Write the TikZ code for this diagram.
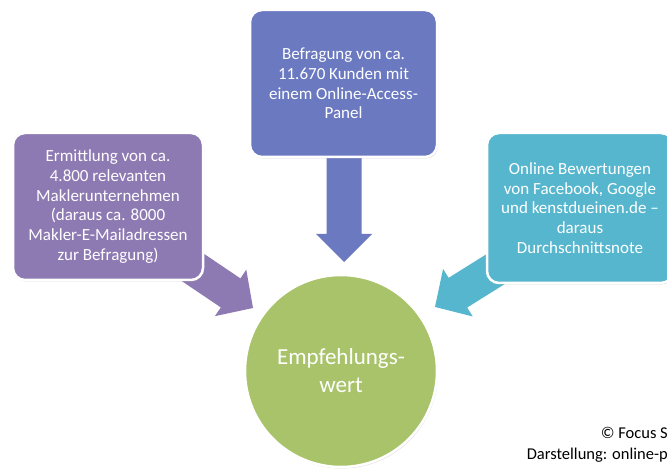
\documentclass[tikz,border=0pt]{standalone}
\usepackage{fontspec}
\setmainfont{Carlito}
\usetikzlibrary{shadows}
\definecolor{cTop}{HTML}{6B79C1}
\definecolor{cLeft}{HTML}{8E7AB3}
\definecolor{cRight}{HTML}{56B6CE}
\definecolor{cGreen}{HTML}{A9C36A}
\begin{document}
\begin{tikzpicture}[x=1pt,y=-1pt,
  box/.style={rounded corners=12pt, draw=white, line width=2.5pt, text=white,
    align=center, font=\fontsize{17}{19.8}\selectfont, inner sep=4pt,
    drop shadow={opacity=0.3, shadow xshift=1pt, shadow yshift=-1.5pt}},
  hub/.style={circle, draw=white, line width=2.5pt, text=white, align=center,
    font=\fontsize{23}{28}\selectfont, minimum size=192pt, inner sep=0pt,
    drop shadow={opacity=0.25, shadow xshift=1pt, shadow yshift=-1.5pt}},
  caption/.style={anchor=east, font=\fontsize{16.5}{19}\selectfont, inner sep=0pt}]
\clip (0,0) rectangle (667,470);
\useasboundingbox (0,0) rectangle (667,470);
\fill[white] (0,0) rectangle (667,470);
% arrow tips
\coordinate (tipT) at (344,262);
\coordinate (tipL) at (253,308);
\coordinate (tipR) at (435,307);
% block arrows
\fill[cTop, shift={(tipT)}, rotate=-90] (0,0) -- (-28,-28) -- (-28,-17.5) -- (-120,-17.5) -- (-120,17.5) -- (-28,17.5) -- (-28,28) -- cycle;
\fill[cLeft, shift={(tipL)}, rotate=-34] (0,0) -- (-27,-28) -- (-27,-17.5) -- (-100,-17.5) -- (-100,17.5) -- (-27,17.5) -- (-27,28) -- cycle;
\fill[cRight, shift={(tipR)}, rotate=212] (0,0) -- (-27,-28) -- (-27,-17.5) -- (-100,-17.5) -- (-100,17.5) -- (-27,17.5) -- (-27,28) -- cycle;
% boxes
\node[box, fill=cTop, minimum width=187pt, minimum height=147pt] (top) at (343.5,83.5)
  {Befragung von ca.\\11.670 Kunden mit\\einem Online-Access-\\Panel};
\node[box, fill=cLeft, minimum width=190pt, minimum height=147pt] (left) at (108,206.5)
  {Ermittlung von ca.\\4.800 relevanten\\Maklerunternehmen\\(daraus ca. 8000\\Makler-E-Mailadressen\\zur Befragung)};
\node[box, fill=cRight, minimum width=186pt, minimum height=150pt] (right) at (580,208)
  {Online Bewertungen\\von Facebook, Google\\und kenstdueinen.de –\\daraus\\Durchschnittsnote};
\node[hub, fill=cGreen] (hub) at (341,371) {Empfehlungs-\\wert};
% caption
\node[caption] (copy) at (668,433) {© Focus S};
\node[caption] (credit) at (668,455) {Darstellung: online-p};
\end{tikzpicture}
\end{document}
